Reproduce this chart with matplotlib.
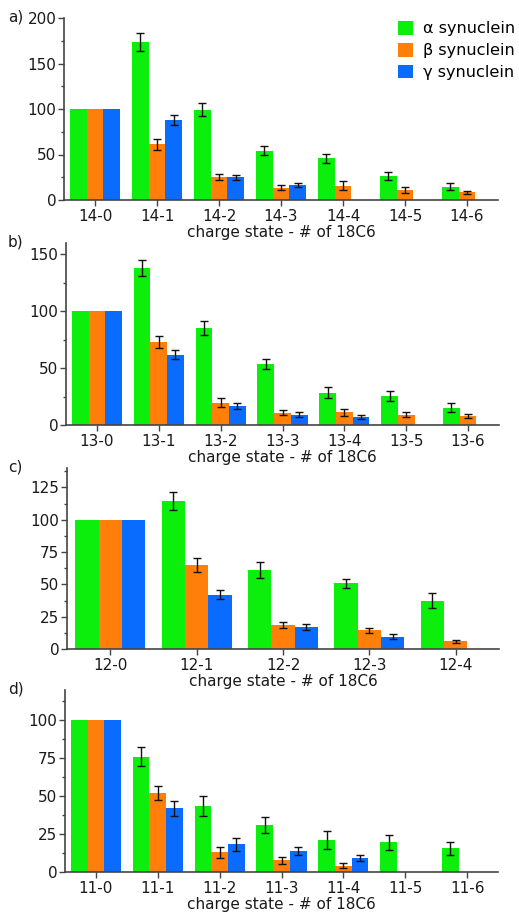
import numpy as np
import matplotlib
matplotlib.use("Agg")
import matplotlib.pyplot as plt
from matplotlib.ticker import MultipleLocator
from matplotlib.patches import Patch

plt.rcParams['font.family'] = ['DejaVu Sans']

nan = np.nan
series = ["α synuclein", "β synuclein", "γ synuclein"]
colors = ["#0CEE0C", "#FF7F0A", "#0A6CFF"]

# Panel a: charge state 14
cats_a = ["14-0", "14-1", "14-2", "14-3", "14-4", "14-5", "14-6"]
alpha_a = [100, 173.6, 99.4, 54, 46, 26.4, 14.7]
alpha_a_err = [0, 10, 7, 5, 5, 4, 4]
beta_a = [100, 61, 25.3, 13.6, 15.8, 11, 8.4]
beta_a_err = [0, 6, 3, 3, 5, 3.7, 2]
gamma_a = [100, 88, 25, 16.5, nan, nan, nan]
gamma_a_err = [0, 5.5, 3, 2.4, nan, nan, nan]

# Panel b: charge state 13
cats_b = ["13-0", "13-1", "13-2", "13-3", "13-4", "13-5", "13-6"]
alpha_b = [100, 138.2, 85.3, 53.8, 28.5, 25.6, 15.3]
alpha_b_err = [0, 7, 6, 4.5, 5, 4.4, 4]
beta_b = [100, 73, 19.4, 10.9, 11.2, 9.1, 7.6]
beta_b_err = [0, 5, 4, 2.5, 3, 2, 1.8]
gamma_b = [100, 61.8, 16.8, 8.8, 7, nan, nan]
gamma_b_err = [0, 4, 2.7, 2.2, 1.8, nan, nan]

# Panel c: charge state 12
cats_c = ["12-0", "12-1", "12-2", "12-3", "12-4"]
alpha_c = [100, 114.7, 61.3, 50.8, 37.5]
alpha_c_err = [0, 7, 6.3, 3.7, 5.5]
beta_c = [100, 65.2, 18.5, 14.4, 5.9]
beta_c_err = [0, 5.5, 2.6, 1.7, 1.4]
gamma_c = [100, 42.1, 16.9, 9.5, nan]
gamma_c_err = [0, 3.5, 2.4, 1.9, nan]

# Panel d: charge state 11
cats_d = ["11-0", "11-1", "11-2", "11-3", "11-4", "11-5", "11-6"]
alpha_d = [100, 76.1, 43.5, 31.1, 21, 19.7, 15.5]
alpha_d_err = [0, 6, 6.8, 5.3, 6, 5, 4.5]
beta_d = [100, 51.9, 12.9, 7.7, 4.2, nan, nan]
beta_d_err = [0, 4.6, 3.5, 2.3, 1.6, nan, nan]
gamma_d = [100, 42, 18.2, 14, 9.2, nan, nan]
gamma_d_err = [0, 5, 4.2, 2.5, 2.2, nan, nan]

panels = [
    ("a)", cats_a, [alpha_a, beta_a, gamma_a], [alpha_a_err, beta_a_err, gamma_a_err], 200, 50, 25, [64, 18, 498, 200]),
    ("b)", cats_b, [alpha_b, beta_b, gamma_b], [alpha_b_err, beta_b_err, gamma_b_err], 160, 50, 25, [66, 243, 499, 425]),
    ("c)", cats_c, [alpha_c, beta_c, gamma_c], [alpha_c_err, beta_c_err, gamma_c_err], 140, 25, 12.5, [67, 468, 499, 649]),
    ("d)", cats_d, [alpha_d, beta_d, gamma_d], [alpha_d_err, beta_d_err, gamma_d_err], 120, 25, 12.5, [65, 690, 498, 872]),
]

W, H = 519, 923
fig = plt.figure(figsize=(W / 100, H / 100), dpi=100)
spine_col = "#444444"
text_col = "#1a1a1a"
bw = 0.27

for i, (lab, cats, vals, errs, ytop, maj, mnr, box) in enumerate(panels):
    x0, y0, x1, y1 = box
    ax = fig.add_axes([x0 / W, 1 - y1 / H, (x1 - x0) / W, (y1 - y0) / H])
    x = np.arange(len(cats))
    for k in range(3):
        v = np.array(vals[k], dtype=float)
        e = np.array(errs[k], dtype=float)
        pos = x + (k - 1) * bw
        ax.bar(pos, v, width=bw, color=colors[k], edgecolor='none', zorder=2)
        mask = (~np.isnan(v)) & (np.nan_to_num(e) > 0)
        ax.errorbar(pos[mask], v[mask], yerr=e[mask], fmt='none', ecolor='#111111',
                    elinewidth=1.0, capsize=2.6, capthick=1.0, zorder=3)
    ax.set_xlim(-0.5, len(cats) - 0.5)
    ax.set_ylim(0, ytop)
    ax.set_xticks(x)
    ax.set_xticklabels(cats)
    ax.yaxis.set_major_locator(MultipleLocator(maj))
    ax.yaxis.set_minor_locator(MultipleLocator(mnr))
    for s in ['top', 'right']:
        ax.spines[s].set_visible(False)
    for s in ['left', 'bottom']:
        ax.spines[s].set_color(spine_col)
        ax.spines[s].set_linewidth(1.2)
    ax.tick_params(axis='both', which='major', labelsize=11, colors=spine_col,
                   labelcolor=text_col, length=4, width=1, pad=1.5)
    ax.tick_params(axis='x', which='major', pad=2.5)
    ax.tick_params(axis='y', which='minor', length=2.5, width=1, colors=spine_col)
    ax.tick_params(axis='x', which='minor', bottom=False)
    ax.set_xlabel("charge state - # of 18C6", fontsize=11, color=text_col, labelpad=0.5)
    fig.text(8 / W, 1 - (y0 - 1) / H, lab, fontsize=11, color=text_col, va='center', ha='left')
    if i == 0:
        handles = [Patch(facecolor=c, edgecolor='none') for c in colors]
        ax.legend(handles, series, loc='upper left',
                  bbox_to_anchor=((398 - x0) / (x1 - x0), 1 - 3.0 / (y1 - y0)),
                  frameon=False, fontsize=11.6, handlelength=0.93, handleheight=0.93,
                  handletextpad=0.6, labelspacing=0.4, borderaxespad=0.0, borderpad=0.0)

fig.savefig("out.png", dpi=100)
